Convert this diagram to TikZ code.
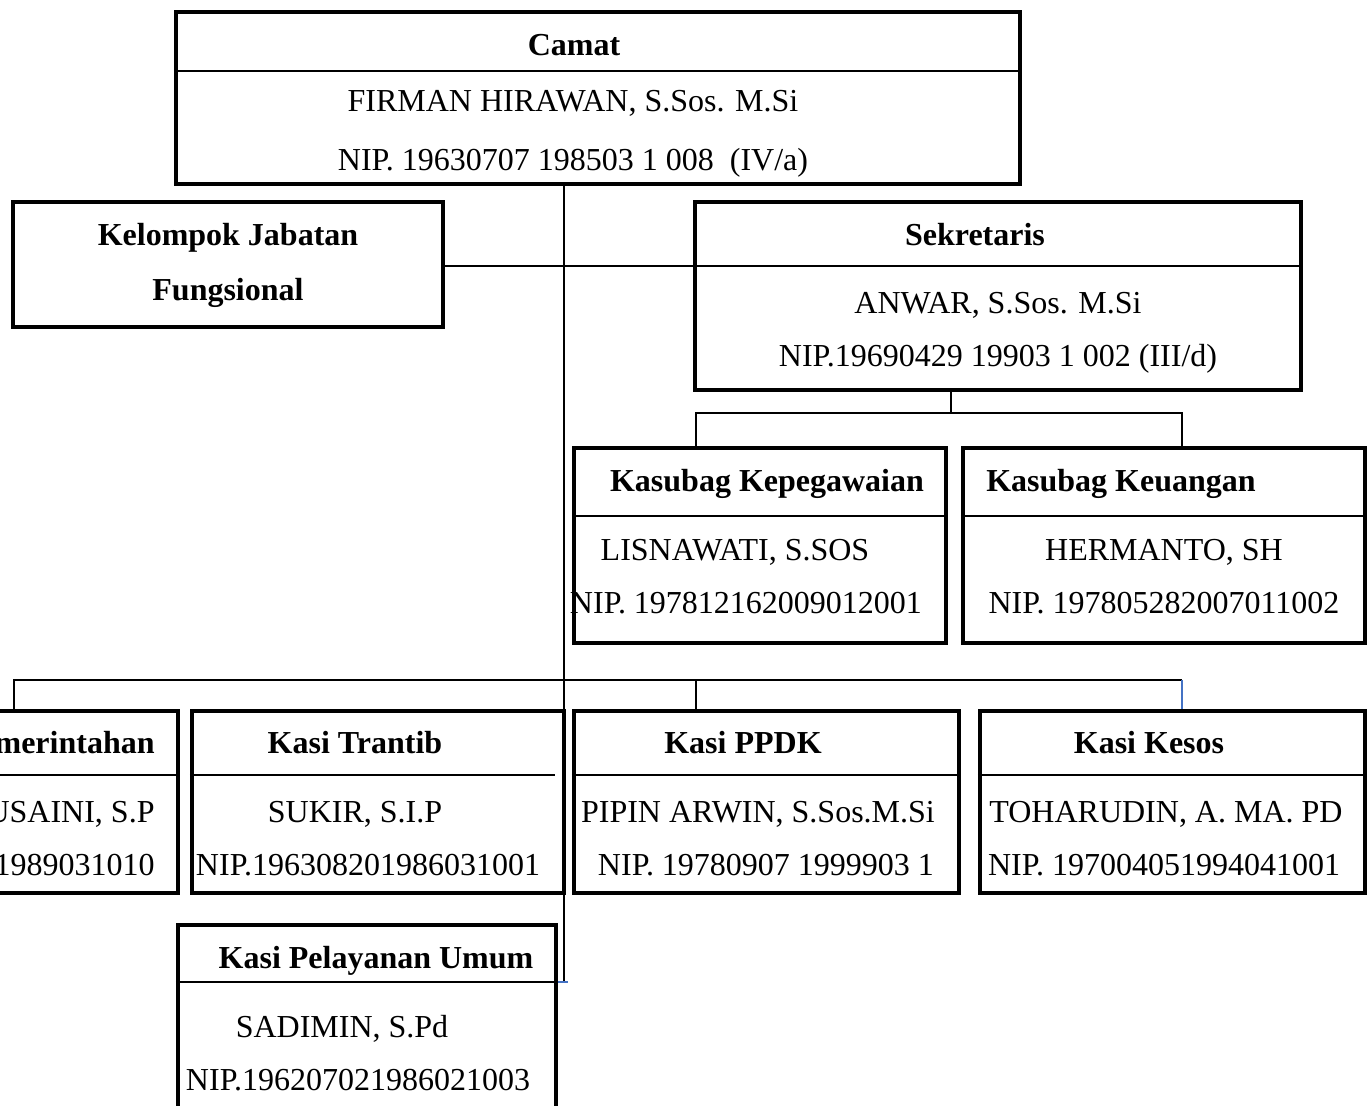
\documentclass[tikz,border=0pt]{standalone}
\usepackage{fontspec}
\setmainfont{Liberation Serif}
\usetikzlibrary{calc, positioning}
\definecolor{tickblue}{RGB}{68,114,196}
\tikzset{
    unit/.style={draw, line width=2.1pt, inner sep=0pt},
    txt/.style={inner sep=0pt, text height=10.6pt, text depth=0pt, font=\fontsize{16}{18}\selectfont},
    ttl/.style={txt, font=\fontsize{16}{18}\selectfont\bfseries},
    sep/.style={line width=0.9pt},
    link/.style={line width=0.8pt},
}

\begin{document}
\begin{tikzpicture}[x=0.5pt, y=-0.5pt]

    \useasboundingbox (0,0) rectangle (1371,1106);
    \clip (0,0) rectangle (1371,1106);

    % Texts
    \node (camat-t)  [ttl] at (574,45)  {Camat};
    \node (camat-n)  [txt] at (573,101) {FIRMAN HIRAWAN, S.Sos. M.Si};
    \node (camat-p)  [txt] at (573,160) {NIP. 19630707 198503 1 008\enspace(IV/a)};

    \node (kjf-t1)   [ttl] at (228,235) {Kelompok Jabatan};
    \node (kjf-t2)   [ttl] at (228,290) {Fungsional};

    \node (sekr-t)   [ttl] at (975,235) {Sekretaris};
    \node (sekr-n)   [txt] at (998,303) {ANWAR, S.Sos. M.Si};
    \node (sekr-p)   [txt] at (998,356) {NIP.19690429 19903 1 002 (III/d)};

    \node (kepeg-t)  [ttl] at (767,481) {Kasubag Kepegawaian};
    \node (kepeg-n)  [txt] at (735,550) {LISNAWATI, S.SOS};
    \node (kepeg-p)  [txt] at (746,603) {NIP. 197812162009012001};

    \node (keu-t)    [ttl] at (1121,481) {Kasubag Keuangan};
    \node (keu-n)    [txt] at (1164,550) {HERMANTO, SH};
    \node (keu-p)    [txt] at (1164,603) {NIP. 197805282007011002};

    \node (pem-t)    [ttl, anchor=east] at (155,743) {merintahan};
    \node (pem-n)    [txt, anchor=east] at (155,812) {USAINI, S.P};
    \node (pem-p)    [txt, anchor=east] at (155,865) {1989031010};

    \node (trantib-t) [ttl] at (355,743) {Kasi Trantib};
    \node (trantib-n) [txt] at (355,812) {SUKIR, S.I.P};
    \node (trantib-p) [txt] at (368,865) {NIP.196308201986031001};

    \node (ppdk-t)   [ttl] at (743,743) {Kasi PPDK};
    \node (ppdk-n)   [txt] at (758,812) {PIPIN ARWIN, S.Sos.M.Si};
    \node (ppdk-p)   [txt] at (766,865) {NIP. 19780907 1999903 1};

    \node (kesos-t)  [ttl] at (1149,743) {Kasi Kesos};
    \node (kesos-n)  [txt] at (1166,812) {TOHARUDIN, A. MA. PD};
    \node (kesos-p)  [txt] at (1164,865) {NIP. 197004051994041001};

    \node (pelay-t)  [ttl] at (376,958)  {Kasi Pelayanan Umum};
    \node (pelay-n)  [txt] at (342,1027) {SADIMIN, S.Pd};
    \node (pelay-p)  [txt] at (358,1080) {NIP.196207021986021003};

    % Boxes
    \node (camat)   [unit, minimum width=422pt,   minimum height=86pt]   at (598,98)      {};
    \node (kjf)     [unit, minimum width=215pt,   minimum height=62.5pt] at (228,264.5)   {};
    \node (sekr)    [unit, minimum width=303pt,   minimum height=94pt]   at (998,296)     {};
    \node (kepeg)   [unit, minimum width=186pt,   minimum height=97.5pt] at (760,545.5)   {};
    \node (keu)     [unit, minimum width=201pt,   minimum height=97.5pt] at (1164,545.5)  {};
    \node (pem)     [unit, minimum width=189pt,   minimum height=91pt]   at (-11,802)     {};
    \node (trantib) [unit, minimum width=186pt,   minimum height=91pt]   at (378,802)     {};
    \node (ppdk)    [unit, minimum width=192.5pt, minimum height=91pt]   at (766.5,802)   {};
    \node (kesos)   [unit, minimum width=192.5pt, minimum height=91pt]   at (1172.5,802)  {};
    \node (pelay)   [unit, minimum width=189pt,   minimum height=102.5pt] at (367,1027.5) {};

    % Header lines
    \draw [sep] (camat.west |- 0,71)    -- (camat.east |- 0,71);
    \draw [sep] (sekr.west |- 0,266)    -- (sekr.east |- 0,266);
    \draw [sep] (kepeg.west |- 0,516)   -- (kepeg.east |- 0,516);
    \draw [sep] (keu.west |- 0,516)     -- (keu.east |- 0,516);
    \draw [sep] (pem.west |- 0,775)     -- (pem.east |- 0,775);
    \draw [sep] (trantib.west |- 0,775) -- (555,775);
    \draw [sep] (ppdk.west |- 0,775)    -- (ppdk.east |- 0,775);
    \draw [sep] (kesos.west |- 0,775)   -- (kesos.east |- 0,775);
    \draw [sep] (pelay.west |- 0,982)   -- (pelay.east |- 0,982);

    % Connectors
    \coordinate (spine)  at (564,982);
    \coordinate (side)   at (564,266);
    \coordinate (sub-up) at (951,413);
    \coordinate (sub-l)  at (696,413);
    \coordinate (sub-r)  at (1182,413);
    \coordinate (row-l)  at (14,680);
    \coordinate (row-m)  at (696,680);
    \coordinate (row-r)  at (1182,680);

    \begin{scope}[link]

        \draw (camat.south -| spine) -- (spine);
        \draw [tickblue] (pelay.east |- spine) -- ++(10,0);
        \draw (kjf.east |- side) -- (sekr.west |- side);

        \draw (sekr.south -| sub-up) -- (sub-up);
        \draw (sub-l |- kepeg.north) -- (sub-l) -- (sub-r) -- (sub-r |- keu.north);

        \draw (row-l |- pem.north) -- (row-l) -- (row-r);
        \draw (row-m) -- (row-m |- ppdk.north);
        \draw [tickblue] (row-r) -- (row-r |- kesos.north);

    \end{scope}

\end{tikzpicture}
\end{document}
